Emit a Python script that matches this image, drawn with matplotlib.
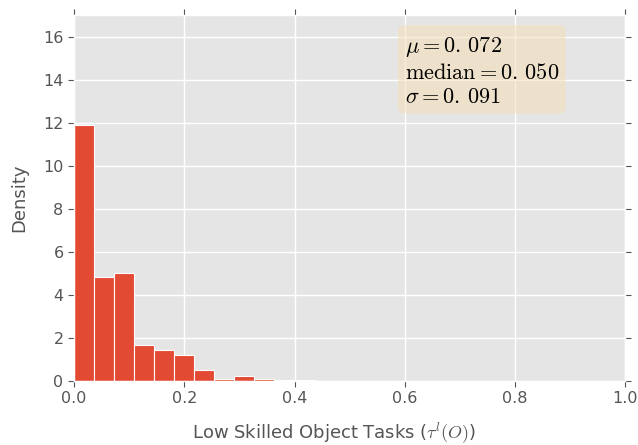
import numpy as np
import matplotlib
matplotlib.use("Agg")
import matplotlib.pyplot as plt

# histogram: 14 equal bins from 0 to ~0.509
bin_lo = 0.0
bin_hi = 0.509
density = [11.9, 4.85, 5.0, 1.65, 1.44, 1.2, 0.5, 0.1, 0.21, 0.11, 0.02, 0.06, 0.005, 0.01]

stats_mu = "0.\\,072"
stats_median = "0.\\,050"
stats_sigma = "0.\\,091"

plt.style.use("ggplot")
plt.rcParams["mathtext.fontset"] = "cm"

edges = np.linspace(bin_lo, bin_hi, len(density) + 1)
width = edges[1] - edges[0]

fig = plt.figure(figsize=(6.38, 4.45), dpi=100)
ax = fig.add_axes([0.116, 0.144, 0.864, 0.822])

ax.bar(edges[:-1], density, width=width, align="edge",
       color="#E24A33", edgecolor="white", linewidth=0.8)

ax.set_xlim(0, 1)
ax.set_ylim(0, 17)
ax.set_yticks(np.arange(0, 17, 2))
ax.set_xticks(np.arange(0, 1.01, 0.2))
ax.tick_params(axis="both", labelsize=11.5, colors="#555555", direction="out",
               top=True, right=True, length=4)
ax.grid(True, color="white", linewidth=1)

ax.set_xlabel(r"Low Skilled Object Tasks ($\tau^l(O)$)", fontsize=13, color="#555555")
ax.set_ylabel("Density", fontsize=13, color="#555555")
ax.xaxis.set_label_coords(0.472, -0.108)
ax.yaxis.set_label_coords(-0.083, 0.5)

txt = "\n".join([
    r"$\mu=%s$" % stats_mu,
    r"$\mathrm{median}=%s$" % stats_median,
    r"$\sigma=%s$" % stats_sigma,
])
ax.text(0.6, 0.946, txt, transform=ax.transAxes, fontsize=16, va="top",
        linespacing=1.25,
        bbox=dict(boxstyle="round", facecolor="wheat", alpha=0.5, edgecolor="none"))

fig.savefig("out.png", dpi=100)
